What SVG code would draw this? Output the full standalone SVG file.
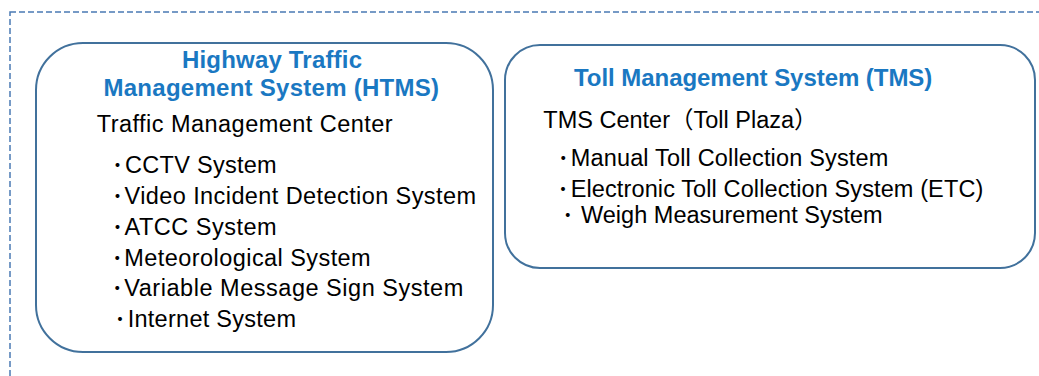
<svg xmlns="http://www.w3.org/2000/svg" width="1039" height="376" viewBox="0 0 1039 376">
<style>
.frame{fill:none;stroke:#4a7ab4;stroke-width:1.5;stroke-dasharray:6 3}
.box{fill:#fff;stroke:#41719c;stroke-width:2}
.title{font-family:"Liberation Sans",Arial,sans-serif;font-weight:bold;font-size:24px;fill:#1a78c2}
.t{font-family:"Liberation Sans",Arial,"Noto Sans CJK JP",sans-serif;font-size:23.5px;fill:#000}
.dot{font-family:"Noto Sans CJK JP",sans-serif;font-size:14px;font-weight:900;fill:#000;text-anchor:middle}
</style>
<rect class="frame" x="10" y="12" width="1060" height="400"/>
<g id="htms">
<rect class="box" x="36" y="43" width="457" height="309" rx="47" ry="47"/>
<text class="title" x="182" y="68" textLength="180" lengthAdjust="spacing">Highway Traffic</text>
<text class="title" x="103.5" y="96" textLength="335.5" lengthAdjust="spacing">Management System (HTMS)</text>
<text class="t" x="96.7" y="132" textLength="296" lengthAdjust="spacing">Traffic Management Center</text>
<text class="dot" x="117.5" y="170.3">・</text>
<text class="t" x="125" y="173.3" textLength="151.7" lengthAdjust="spacing">CCTV System</text>
<text class="dot" x="117.5" y="201">・</text>
<text class="t" x="124.5" y="204" textLength="351.5" lengthAdjust="spacing">Video Incident Detection System</text>
<text class="dot" x="117.5" y="231.5">・</text>
<text class="t" x="124.5" y="234.5" textLength="152.2" lengthAdjust="spacing">ATCC System</text>
<text class="dot" x="117.3" y="262.5">・</text>
<text class="t" x="124.3" y="265.5" textLength="246.4" lengthAdjust="spacing">Meteorological System</text>
<text class="dot" x="117.3" y="293">・</text>
<text class="t" x="124.3" y="296" textLength="339" lengthAdjust="spacing">Variable Message Sign System</text>
<text class="dot" x="120" y="323.7">・</text>
<text class="t" x="127.7" y="326.7" textLength="168.3" lengthAdjust="spacing">Internet System</text>
</g>
<g id="tms">
<rect class="box" x="505" y="45" width="530" height="223" rx="35" ry="35"/>
<text class="title" x="574" y="85.7" textLength="358.3" lengthAdjust="spacing">Toll Management System (TMS)</text>
<text class="t" x="543.3" y="128.3">TMS Center<tspan font-family="Noto Sans CJK JP">（</tspan>Toll Plaza<tspan font-family="Noto Sans CJK JP">）</tspan></text>
<text class="dot" x="563.3" y="163">・</text>
<text class="t" x="570.7" y="166" textLength="317.6" lengthAdjust="spacing">Manual Toll Collection System</text>
<text class="dot" x="563" y="193.7">・</text>
<text class="t" x="570.7" y="196.7" textLength="412.6" lengthAdjust="spacing">Electronic Toll Collection System (ETC)</text>
<text class="dot" x="567.7" y="220.3">・</text>
<text class="t" x="581" y="223.3" textLength="301.7" lengthAdjust="spacing">Weigh Measurement System</text>
</g>
<g id="connectors"/>
</svg>
